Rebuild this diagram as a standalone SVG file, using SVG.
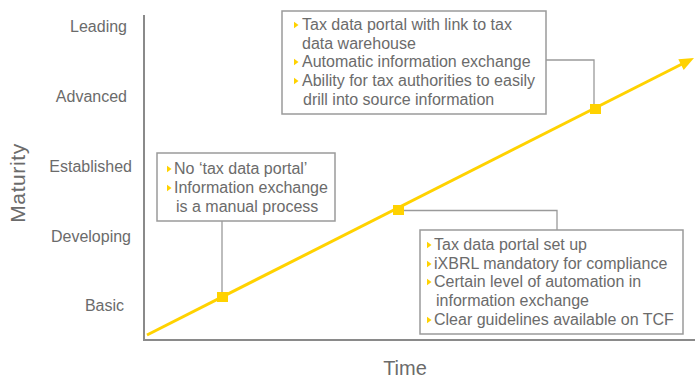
<svg xmlns="http://www.w3.org/2000/svg" width="695" height="378" viewBox="0 0 695 378">
<style>
text{font-family:"Liberation Sans",Arial,sans-serif;fill:#6b6b6b}
.lvl{font-size:16px}
.item{font-size:16px}
.ax{font-size:20px}
.box{fill:#fff;stroke:#9a9a9a;stroke-width:1.5}
.conn{fill:none;stroke:#9a9a9a;stroke-width:1.3}
.axis{fill:none;stroke:#8a8a8a;stroke-width:2}
.sq{fill:#ffd200}
.bul{fill:#ffd200}
</style>
<defs>
<path id="b" d="M0,-3.2 L4.5,0 L0,3.2 Z"/>
</defs>

<g id="axes">
<path class="axis" d="M144,15 V340 H695"/>
<text class="ax" x="405" y="375" text-anchor="middle">Time</text>
<text class="ax" transform="translate(25,183) rotate(-90)" text-anchor="middle" style="font-size:21px;letter-spacing:0.6px">Maturity</text>
</g>

<g id="levels">
<text class="lvl" x="127" y="32" text-anchor="end">Leading</text>
<text class="lvl" x="127" y="102" text-anchor="end">Advanced</text>
<text class="lvl" x="132" y="172" text-anchor="end">Established</text>
<text class="lvl" x="131" y="242" text-anchor="end">Developing</text>
<text class="lvl" x="124" y="311" text-anchor="end">Basic</text>
</g>

<g id="trend">
<line x1="147" y1="335" x2="683" y2="63.5" stroke="#ffd200" stroke-width="3"/>
<polygon points="694,58 678.3,59.2 683.7,70" fill="#ffd200"/>
</g>

<g id="connectors">
<path class="conn" d="M222,221 V292"/>
<path class="conn" d="M404,210.5 H557 V230"/>
<path class="conn" d="M546,60 H594 V104"/>
</g>

<g id="marker-basic"><rect class="sq" x="217" y="292" width="11" height="10"/></g>
<g id="marker-developing"><rect class="sq" x="393" y="205" width="11" height="10"/></g>
<g id="marker-advanced"><rect class="sq" x="590" y="104" width="11" height="10"/></g>

<g id="box-basic">
<rect class="box" x="157" y="153" width="178" height="68"/>
<use href="#b" class="bul" x="167" y="169"/>
<use href="#b" class="bul" x="167" y="188"/>
<text class="item" x="174" y="174">No ‘tax data portal’</text>
<text class="item" x="174" y="193">Information exchange</text>
<text class="item" x="176" y="212">is a manual process</text>
</g>

<g id="box-developing">
<rect class="box" x="420" y="230" width="263" height="104"/>
<use href="#b" class="bul" x="427" y="245"/>
<use href="#b" class="bul" x="427" y="264"/>
<use href="#b" class="bul" x="427" y="282"/>
<use href="#b" class="bul" x="427" y="320"/>
<text class="item" x="434" y="250">Tax data portal set up</text>
<text class="item" x="434" y="269">iXBRL mandatory for compliance</text>
<text class="item" x="434" y="287">Certain level of automation in</text>
<text class="item" x="436" y="306">information exchange</text>
<text class="item" x="434" y="325">Clear guidelines available on TCF</text>
</g>

<g id="box-advanced">
<rect class="box" x="282" y="11" width="264" height="103"/>
<use href="#b" class="bul" x="294" y="25"/>
<use href="#b" class="bul" x="294" y="62"/>
<use href="#b" class="bul" x="294" y="81"/>
<text class="item" x="302" y="30">Tax data portal with link to tax</text>
<text class="item" x="302" y="49">data warehouse</text>
<text class="item" x="302" y="67">Automatic information exchange</text>
<text class="item" x="302" y="86">Ability for tax authorities to easily</text>
<text class="item" x="303" y="105">drill into source information</text>
</g>
</svg>
